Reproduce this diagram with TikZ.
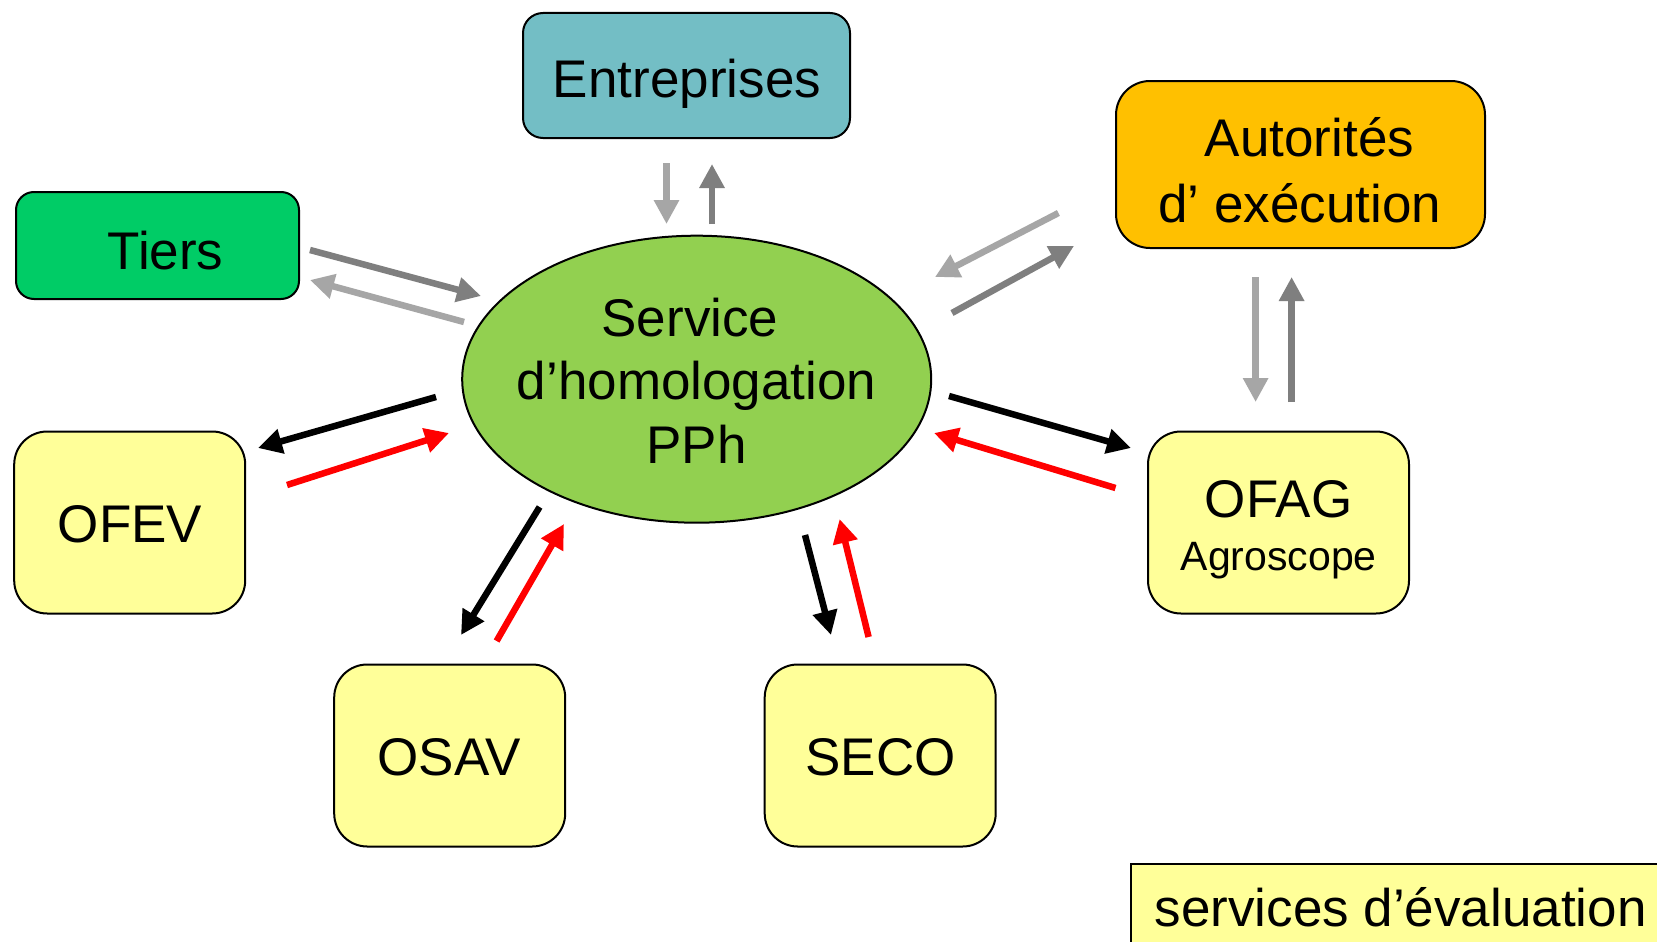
\documentclass[tikz,border=0pt]{standalone}
\usepackage{fontspec}
\setmainfont{Liberation Sans}
\usetikzlibrary{arrows.meta,shapes.geometric}
\definecolor{entc}{RGB}{115,190,197}
\definecolor{tierc}{RGB}{0,204,102}
\definecolor{autc}{RGB}{255,192,0}
\definecolor{yelc}{RGB}{255,255,153}
\definecolor{ellc}{RGB}{146,208,80}
\definecolor{lgray}{RGB}{166,166,166}
\definecolor{dgray}{RGB}{127,127,127}
\definecolor{redc}{RGB}{255,0,0}
\begin{document}
\begin{tikzpicture}[x=1pt,y=-1pt,
  box/.style={draw=black, line width=2pt, inner sep=0pt, outer sep=0pt},
  txt/.style={font=\fontsize{53}{60}\selectfont, inner sep=0pt, anchor=base},
  smalltxt/.style={font=\fontsize{41}{48}\selectfont, inner sep=0pt, anchor=base},
  arr/.style={-{Triangle[length=24pt,width=24pt]}, line width=6.5pt},
  arrL/.style={arr, draw=lgray},
  arrD/.style={arr, draw=dgray},
  arrK/.style={arr, draw=black},
  arrR/.style={arr, draw=redc}]
\useasboundingbox (0,0) rectangle (1657,942);
\clip (0,0) rectangle (1657,942);
\fill[white] (0,0) rectangle (1657,942);

% boxes
\node[box, fill=entc, rounded corners=20pt, minimum width=327pt, minimum height=125pt] (ent) at (686.5,75.5) {};
\node[box, fill=tierc, rounded corners=18pt, minimum width=283pt, minimum height=107pt] (tiers) at (157.5,245.5) {};
\node[box, fill=autc, rounded corners=34pt, minimum width=369pt, minimum height=167pt] (aut) at (1300.5,164.5) {};
\node[box, fill=ellc, ellipse, minimum width=469pt, minimum height=287pt] (svc) at (696.7,379.2) {};
\node[box, fill=yelc, rounded corners=33pt, minimum width=231pt, minimum height=182pt] (ofev) at (129.7,522.5) {};
\node[box, fill=yelc, rounded corners=33pt, minimum width=231pt, minimum height=182pt] (osav) at (449.7,755.5) {};
\node[box, fill=yelc, rounded corners=33pt, minimum width=231pt, minimum height=182pt] (seco) at (880.2,755.5) {};
\node[box, fill=yelc, rounded corners=33pt, minimum width=261pt, minimum height=182pt] (ofag) at (1278.5,522.5) {};
\node[box, fill=yelc, minimum width=569pt, minimum height=140pt] (eval) at (1415.5,933.5) {};

% texts
\node[txt] (entT) at (687,97) {Entreprises};
\node[txt] (tiersT) at (165.5,269.3) {Tiers};
\node[txt] (autT1) at (1309.5,156.7) {Autorités};
\node[txt] (autT2) at (1299.8,222.7) {d’ exécution};
\node[txt] (svcT1) at (690,336) {Service};
\node[txt] (svcT2) at (696.6,399.5) {d’homologation};
\node[txt] (svcT3) at (696.6,463.3) {PPh};
\node[txt] (ofevT) at (130,542.7) {OFEV};
\node[txt] (osavT) at (449.2,775) {OSAV};
\node[txt] (secoT) at (880.4,775.4) {SECO};
\node[txt] (ofagT) at (1278.6,517) {OFAG};
\node[smalltxt] (agroT) at (1278.7,570.2) {Agroscope};
\node[txt] (evalT) at (1400.7,926) {services d’évaluation};

% arrow end points
\coordinate (e1s) at (666.5,163);  \coordinate (e1e) at (666.5,224);
\coordinate (e2s) at (712,224);    \coordinate (e2e) at (712,164);
\coordinate (t1s) at (310,250);    \coordinate (t1e) at (481,296);
\coordinate (t2s) at (464,322);    \coordinate (t2e) at (310,280);
\coordinate (a1s) at (1058.4,213); \coordinate (a1e) at (935,277);
\coordinate (a2s) at (952,313);    \coordinate (a2e) at (1074,246);
\coordinate (g1s) at (1255.6,277); \coordinate (g1e) at (1255.6,402);
\coordinate (g2s) at (1291.6,402); \coordinate (g2e) at (1291.6,277);
\coordinate (f1s) at (949,396);    \coordinate (f1e) at (1131,448);
\coordinate (f2s) at (1115.5,488); \coordinate (f2e) at (934,433);
\coordinate (s1s) at (805,535);    \coordinate (s1e) at (831,635);
\coordinate (s2s) at (868.6,637);  \coordinate (s2e) at (839.6,519);
\coordinate (o1s) at (539.6,507);  \coordinate (o1e) at (461,635);
\coordinate (o2s) at (496.6,641);  \coordinate (o2e) at (564,524);
\coordinate (v1s) at (436,397);    \coordinate (v1e) at (258,448);
\coordinate (v2s) at (287,485);    \coordinate (v2e) at (449,433);

% arrows
\draw[arrL] (e1s) -- (e1e);
\draw[arrD] (e2s) -- (e2e);
\draw[arrD] (t1s) -- (t1e);
\draw[arrL] (t2s) -- (t2e);
\draw[arrL] (a1s) -- (a1e);
\draw[arrD] (a2s) -- (a2e);
\draw[arrL] (g1s) -- (g1e);
\draw[arrD] (g2s) -- (g2e);
\draw[arrK] (f1s) -- (f1e);
\draw[arrR] (f2s) -- (f2e);
\draw[arrK] (s1s) -- (s1e);
\draw[arrR] (s2s) -- (s2e);
\draw[arrK] (o1s) -- (o1e);
\draw[arrR] (o2s) -- (o2e);
\draw[arrK] (v1s) -- (v1e);
\draw[arrR] (v2s) -- (v2e);
\end{tikzpicture}
\end{document}
